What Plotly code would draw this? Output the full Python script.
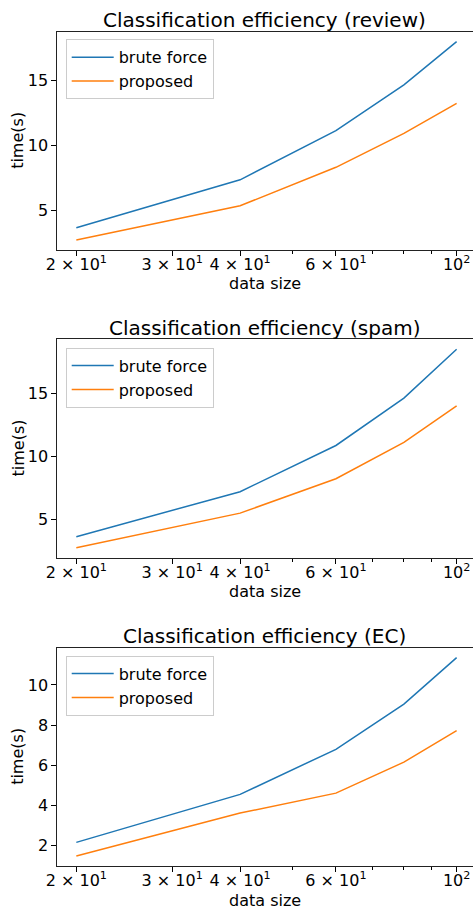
import math
import plotly.graph_objects as go

W, H = 473, 909

data_size = [20, 40, 60, 80, 100]

titles = ["Classification efficiency (review)",
          "Classification efficiency (spam)",
          "Classification efficiency (EC)"]

brute_review = [3.68, 7.35, 11.12, 14.64, 17.95]
proposed_review = [2.73, 5.36, 8.31, 10.91, 13.21]

brute_spam = [3.60, 7.19, 10.87, 14.65, 18.54]
proposed_spam = [2.72, 5.48, 8.22, 11.11, 14.02]

brute_ec = [2.17, 4.56, 6.80, 9.05, 11.36]
proposed_ec = [1.49, 3.63, 4.62, 6.16, 7.73]

series_names = ["brute force", "proposed"]
colors = ["#1f77b4", "#ff7f0e"]

x_tickvals = [20, 30, 40, 60, 100]
x_ticktext = ["2 × 10<sup>1</sup>", "3 × 10<sup>1</sup>", "4 × 10<sup>1</sup>",
              "6 × 10<sup>1</sup>", "10<sup>2</sup>"]
x_minorvals = [50, 70, 80, 90]
y_tickvals = [[5, 10, 15], [5, 10, 15], [2, 4, 6, 8, 10]]

panels = [(brute_review, proposed_review),
          (brute_spam, proposed_spam),
          (brute_ec, proposed_ec)]

# pixel geometry of each axes box (top, bottom)
left_px, right_px = 57.3, 472.6
boxes = [(31.7, 250.0), (339.3, 557.7), (647.7, 866.0)]
legend_tops = [39.3, 347.7, 655.7]

FONT = "DejaVu Sans"
fig = go.Figure()

lx0 = math.log10(min(data_size))
lx1 = math.log10(max(data_size))
xspan = lx1 - lx0
x_range = [lx0 - 0.05 * xspan, lx1 + 0.042 * xspan]

annotations = []
for i, (brute, prop) in enumerate(panels):
    n = "" if i == 0 else str(i + 1)
    xa = "x" + n
    ya = "y" + n
    leg = "legend" + n
    for name, vals, col in zip(series_names, [brute, prop], colors):
        fig.add_trace(go.Scatter(
            x=data_size, y=vals, mode="lines", name=name,
            line=dict(color=col, width=1.5),
            xaxis=xa, yaxis=ya, legend=leg, showlegend=True))
    top, bot = boxes[i]
    ymin = min(prop + brute)
    ymax = max(prop + brute)
    pad = 0.05 * (ymax - ymin)
    fig.layout["xaxis" + n] = dict(
        type="log", range=x_range, domain=[left_px / W, right_px / W],
        anchor=ya, tickmode="array", tickvals=x_tickvals, ticktext=x_ticktext,
        ticks="outside", ticklen=5, tickwidth=1, tickcolor="black",
        minor=dict(tickmode="array", tickvals=x_minorvals, ticks="outside",
                   ticklen=3, tickwidth=0.8, tickcolor="black", showgrid=False),
        showline=True, linecolor="#222", linewidth=1, mirror=True,
        showgrid=False, zeroline=False, automargin=False,
        ticklabelstandoff=-5,
        tickfont=dict(family=FONT, size=16, color="black"))
    fig.layout["yaxis" + n] = dict(
        range=[ymin - pad, ymax + pad], domain=[1 - bot / H, 1 - top / H],
        anchor=xa, tickmode="array", tickvals=y_tickvals[i],
        ticks="outside", ticklen=5, tickwidth=1, tickcolor="black",
        showline=True, linecolor="#222", linewidth=1, mirror=True,
        showgrid=False, zeroline=False, automargin=False,
        tickfont=dict(family=FONT, size=16, color="black"))
    fig.layout[leg] = dict(
        x=65.7 / W, y=1 - legend_tops[i] / H, xanchor="left", yanchor="top",
        bgcolor="rgba(255,255,255,0.8)", bordercolor="#cccccc", borderwidth=1,
        itemwidth=42,
        font=dict(family=FONT, size=16, color="black"))
    cx = (left_px + right_px) / 2 / W
    annotations.append(dict(
        text=titles[i], x=cx, y=1 - (top - 11.5) / H, xref="paper", yref="paper",
        xanchor="center", yanchor="middle", showarrow=False,
        font=dict(family=FONT, size=20, color="black")))
    annotations.append(dict(
        text="data size", x=cx, y=1 - (bot + 34) / H, xref="paper", yref="paper",
        xanchor="center", yanchor="middle", showarrow=False,
        font=dict(family=FONT, size=16, color="black")))
    annotations.append(dict(
        text="time(s)", x=18 / W, y=1 - (top + bot) / 2 / H, xref="paper",
        yref="paper", xanchor="center", yanchor="middle", textangle=-90,
        showarrow=False, font=dict(family=FONT, size=16, color="black")))

fig.update_layout(
    width=W, height=H, margin=dict(l=0, r=0, t=0, b=0, autoexpand=False),
    paper_bgcolor="white", plot_bgcolor="white",
    annotations=annotations,
    font=dict(family=FONT, size=16, color="black"))

fig.write_html("out.html",
               config={"displayModeBar": False},
               post_script="document.body.style.margin='0px';"
                           "document.body.style.overflow='hidden';")
